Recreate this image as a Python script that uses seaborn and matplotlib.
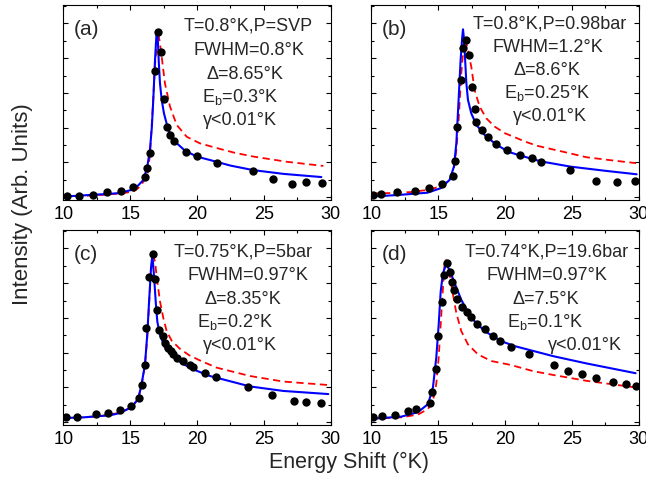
import matplotlib
matplotlib.use("Agg")
import matplotlib.pyplot as plt
import seaborn as sns
from matplotlib.ticker import MultipleLocator, NullFormatter

sns.set_style("ticks")
plt.rcParams['font.family'] = ['Liberation Sans', 'DejaVu Sans']
plt.rcParams['mathtext.fontset'] = 'custom'
plt.rcParams['mathtext.rm'] = 'Liberation Sans'

# ---------------- data: panel (a) ----------------
pts_a_x = [10.30, 11.20, 12.19, 13.24, 14.29, 15.24, 16.11, 16.23, 16.48, 16.83, 17.06, 17.33, 17.53, 17.73,
           17.98, 18.30, 19.18, 19.98, 21.52, 24.21, 25.71, 27.08, 28.13, 29.33]
pts_a_y = [0.04, 0.04, 0.07, 0.14, 0.18, 0.30, 0.57, 0.83, 1.26, 3.64, 4.76, 4.18, 2.83, 2.03,
           1.79, 1.62, 1.29, 1.19, 0.99, 0.74, 0.52, 0.37, 0.45, 0.42]
blue_a_x = [10.0, 11.0, 12.2, 13.2, 14.2, 15.0, 15.5, 16.0, 16.28, 16.48, 16.62, 16.73, 16.86, 16.98, 17.06,
            17.14, 17.23, 17.36, 17.53, 17.86, 18.35, 19.1, 19.98, 20.97, 22.5, 24.2, 26.5, 29.3]
blue_a_y = [0.02, 0.04, 0.07, 0.09, 0.12, 0.20, 0.30, 0.50, 0.88, 1.36, 2.00, 2.80, 3.95, 4.76, 4.60,
            3.90, 3.28, 2.80, 2.41, 1.93, 1.60, 1.34, 1.17, 1.07, 0.91, 0.78, 0.67, 0.58]
red_a_x = [10.0, 11.5, 13.0, 14.0, 14.7, 15.3, 15.6, 16.0, 16.28, 16.48, 16.68, 16.86, 17.03, 17.1, 17.2,
           17.36, 17.6, 17.98, 18.48, 19.23, 20.22, 21.52, 22.8, 24.21, 26.71, 29.45]
red_a_y = [0.02, 0.04, 0.07, 0.10, 0.13, 0.18, 0.26, 0.45, 0.62, 1.20, 2.50, 3.80, 4.55, 4.71, 4.50,
           4.04, 3.28, 2.61, 2.08, 1.74, 1.55, 1.41, 1.28, 1.17, 1.02, 0.90]

# ---------------- data: panel (b) ----------------
pts_b_x = [10.12, 10.75, 11.95, 13.24, 14.29, 15.29, 16.11, 16.28, 16.43, 16.68, 16.86, 17.06, 17.31, 17.55,
           17.73, 17.81, 18.28, 18.73, 19.35, 20.17, 21.12, 22.04, 22.69, 24.88, 26.84, 28.35, 29.70]
pts_b_y = [0.05, 0.09, 0.15, 0.19, 0.26, 0.37, 0.61, 1.05, 2.03, 3.37, 4.30, 4.52, 4.09, 3.18,
           2.53, 2.17, 1.93, 1.74, 1.53, 1.36, 1.22, 1.12, 1.00, 0.78, 0.48, 0.44, 0.48]
blue_b_x = [10.0, 11.0, 12.2, 13.2, 14.2, 15.2, 15.86, 16.18, 16.36, 16.53, 16.68, 16.80, 16.86, 16.92,
            16.98, 17.11, 17.23, 17.48, 17.86, 18.48, 19.23, 20.22, 20.97, 22.69, 24.9, 27.5, 29.85]
blue_b_y = [0.02, 0.04, 0.07, 0.10, 0.13, 0.26, 0.50, 0.88, 1.55, 2.80, 3.95, 4.60, 4.83, 4.60,
            4.23, 3.28, 2.80, 2.41, 2.08, 1.79, 1.55, 1.31, 1.22, 1.03, 0.88, 0.76, 0.66]
red_b_x = [10.0, 11.5, 13.0, 14.2, 15.2, 15.86, 16.18, 16.36, 16.53, 16.73, 16.91, 17.03, 17.23, 17.48,
           17.73, 18.1, 18.6, 19.23, 20.0, 20.7, 21.5, 22.4, 23.3, 24.1, 26.1, 28.0, 29.8]
red_b_y = [0.11, 0.12, 0.15, 0.21, 0.31, 0.50, 0.83, 1.36, 2.22, 3.56, 4.38, 4.54, 4.23, 3.75,
           3.08, 2.61, 2.27, 2.03, 1.84, 1.73, 1.60, 1.48, 1.40, 1.33, 1.15, 1.06, 0.98]

# ---------------- data: panel (c) ----------------
pts_c_x = [10.2, 11.05, 12.44, 13.37, 14.24, 15.04, 15.66, 15.86, 16.11, 16.18, 16.43, 16.68, 16.86, 17.03,
           17.18, 17.43, 17.61, 17.85, 18.06, 18.23, 18.53, 18.93, 19.48, 19.72, 20.6, 21.42, 23.79, 25.59,
           27.25, 28.13, 29.25]
pts_c_y = [0.14, 0.16, 0.24, 0.27, 0.35, 0.48, 0.71, 1.08, 1.65, 2.71, 4.19, 4.83, 4.12, 3.24,
           2.66, 2.48, 2.27, 2.14, 2.05, 1.95, 1.86, 1.76, 1.65, 1.60, 1.43, 1.30, 1.00, 0.79,
           0.62, 0.57, 0.55]
blue_c_x = [10.0, 11.5, 12.2, 13.5, 14.2, 15.1, 15.6, 15.86, 16.11, 16.28, 16.43, 16.56, 16.66, 16.78, 16.91,
            17.03, 17.23, 17.61, 18.23, 18.98, 19.98, 20.97, 23.96, 26.45, 29.82]
blue_c_y = [0.12, 0.14, 0.16, 0.20, 0.26, 0.43, 0.67, 1.10, 1.67, 2.52, 3.57, 4.43, 4.81, 4.24, 3.48,
            2.90, 2.52, 2.14, 1.88, 1.67, 1.48, 1.33, 1.03, 0.90, 0.81]
red_c_x = [10.0, 11.5, 13.0, 14.2, 15.1, 15.6, 15.86, 16.11, 16.28, 16.43, 16.56, 16.68, 16.78, 16.86, 17.03,
           17.23, 17.48, 17.73, 18.1, 18.7, 19.4, 20.2, 21.47, 23.96, 26.45, 29.82]
red_c_y = [0.12, 0.14, 0.19, 0.27, 0.43, 0.67, 1.08, 1.65, 2.45, 3.50, 4.35, 4.78, 4.72, 4.62, 4.05,
           3.48, 3.00, 2.62, 2.35, 2.12, 1.93, 1.78, 1.57, 1.33, 1.17, 1.07]

# ---------------- data: panel (d) ----------------
pts_d_x = [10.15, 10.78, 11.77, 12.72, 13.32, 14.39, 14.56, 14.82, 15.01, 15.31, 15.44, 15.64, 15.89, 16.04,
           16.21, 16.43, 16.76, 17.13, 17.43, 17.93, 18.5, 19.13, 19.63, 20.45, 21.8, 23.67, 24.69, 25.78,
           26.78, 28.1, 29.03, 29.77]
pts_d_y = [0.14, 0.17, 0.22, 0.33, 0.38, 0.54, 0.86, 1.52, 2.48, 3.45, 4.24, 4.57, 4.33, 4.02,
           3.79, 3.55, 3.31, 3.17, 3.03, 2.84, 2.67, 2.48, 2.35, 2.17, 1.97, 1.64, 1.46, 1.40,
           1.26, 1.16, 1.09, 1.05]
blue_d_x = [10.0, 12.24, 13.49, 14.24, 14.61, 14.86, 15.04, 15.19, 15.36, 15.54, 15.66, 15.86, 16.23, 16.73,
            17.48, 18.48, 19.73, 20.72, 23.61, 26.11, 29.77]
blue_d_y = [0.10, 0.16, 0.29, 0.52, 1.00, 1.86, 2.81, 3.76, 4.29, 4.48, 4.50, 4.38, 4.00, 3.52,
            3.00, 2.62, 2.33, 2.19, 1.90, 1.69, 1.41]
red_d_x = [10.0, 12.24, 13.49, 14.24, 14.61, 14.86, 15.04, 15.19, 15.36, 15.49, 15.54, 15.66, 15.86, 16.11,
           16.36, 16.73, 17.23, 17.98, 18.98, 20.4, 22.1, 23.6, 26.11, 29.77]
red_d_y = [0.10, 0.14, 0.22, 0.38, 0.62, 1.10, 1.86, 2.81, 3.86, 4.62, 4.70, 4.57, 4.24, 3.67,
           3.14, 2.62, 2.24, 1.95, 1.76, 1.65, 1.47, 1.36, 1.19, 1.00]

# ---------------- annotations ----------------
labels_a = ["T=0.8°K,P=SVP", "FWHM=0.8°K", "Δ=8.65°K", r"E$\mathregular{_b}$=0.3°K", "γ<0.01°K"]
labels_b = ["T=0.8°K,P=0.98bar", "FWHM=1.2°K", "Δ=8.6°K", r"E$\mathregular{_b}$=0.25°K", "γ<0.01°K"]
labels_c = ["T=0.75°K,P=5bar", "FWHM=0.97°K", "Δ=8.35°K", r"E$\mathregular{_b}$=0.2°K", "γ<0.01°K"]
labels_d = ["T=0.74°K,P=19.6bar", "FWHM=0.97°K", "Δ=7.5°K", r"E$\mathregular{_b}$=0.1°K", "γ<0.01°K"]
panel_tags = ["(a)", "(b)", "(c)", "(d)"]
x_ticks = [10, 15, 20, 25, 30]

fig = plt.figure(figsize=(6.46, 4.78), dpi=100)
W, H = 646, 478

def make_ax(left, top, right, bottom):
    return fig.add_axes([left / W, 1 - bottom / H, (right - left) / W, (bottom - top) / H])

axes = [make_ax(63.3, 5, 330.7, 200), make_ax(371.3, 5, 638.7, 200),
        make_ax(63.3, 230, 330.7, 425), make_ax(371.3, 230, 638.7, 425)]

panels = [
    (pts_a_x, pts_a_y, blue_a_x, blue_a_y, red_a_x, red_a_y, labels_a,
     [0.691, 0.696, 0.679, 0.661, 0.661], [0.867, 0.744, 0.619, 0.504, 0.385]),
    (pts_b_x, pts_b_y, blue_b_x, blue_b_y, red_b_x, red_b_y, labels_b,
     [0.669, 0.662, 0.658, 0.658, 0.667], [0.877, 0.760, 0.641, 0.522, 0.405]),
    (pts_c_x, pts_c_y, blue_c_x, blue_c_y, red_c_x, red_c_y, labels_c,
     [0.672, 0.689, 0.672, 0.642, 0.661], [0.864, 0.742, 0.619, 0.504, 0.385]),
    (pts_d_x, pts_d_y, blue_d_x, blue_d_y, red_d_x, red_d_y, labels_d,
     [0.657, 0.657, 0.653, 0.649, 0.800], [0.864, 0.742, 0.619, 0.504, 0.385]),
]

for ax, tag, (px, py, bx, by, rx, ry, labs, lx, ly) in zip(axes, panel_tags, panels):
    sns.lineplot(x=rx, y=ry, ax=ax, color='#ff0000', lw=1.3, sort=False, estimator=None,
                 linestyle=(0, (4, 2.5)), zorder=2)
    sns.lineplot(x=bx, y=by, ax=ax, color='#0000ff', lw=1.5, sort=False, estimator=None, zorder=2.5)
    sns.scatterplot(x=px, y=py, ax=ax, color='black', s=36, linewidth=0, zorder=3)
    ax.set_xlim(10, 30)
    ax.set_ylim(-0.08, 5.53)
    ax.set_xticks(x_ticks)
    ax.xaxis.set_minor_locator(MultipleLocator(2.5))
    ax.yaxis.set_major_locator(MultipleLocator(1))
    ax.yaxis.set_minor_locator(MultipleLocator(0.5))
    ax.yaxis.set_major_formatter(NullFormatter())
    ax.tick_params(which='both', direction='in', top=True, right=True, width=0.8, colors='black')
    ax.tick_params(which='major', length=3.5)
    ax.tick_params(which='minor', length=2.2)
    ax.tick_params(axis='x', labelsize=13, pad=4)
    ax.set_xlabel("")
    ax.set_ylabel("")
    for s in ax.spines.values():
        s.set_linewidth(0.8)
        s.set_color('black')
    ax.text(0.085, 0.874, tag, transform=ax.transAxes, fontsize=15, ha='center', va='center')
    for t, xx, yy in zip(labs, lx, ly):
        ax.text(xx, yy, t, transform=ax.transAxes, fontsize=13, ha='center', va='baseline')

fig.text(349 / W, 1 - 462 / H, "Energy Shift (°K)", fontsize=15.5, ha='center', va='center')
fig.text(23 / W, 1 - 204 / H, "Intensity (Arb. Units)", fontsize=16, ha='center', va='center',
         rotation=90)

fig.savefig("out.png", dpi=100)
